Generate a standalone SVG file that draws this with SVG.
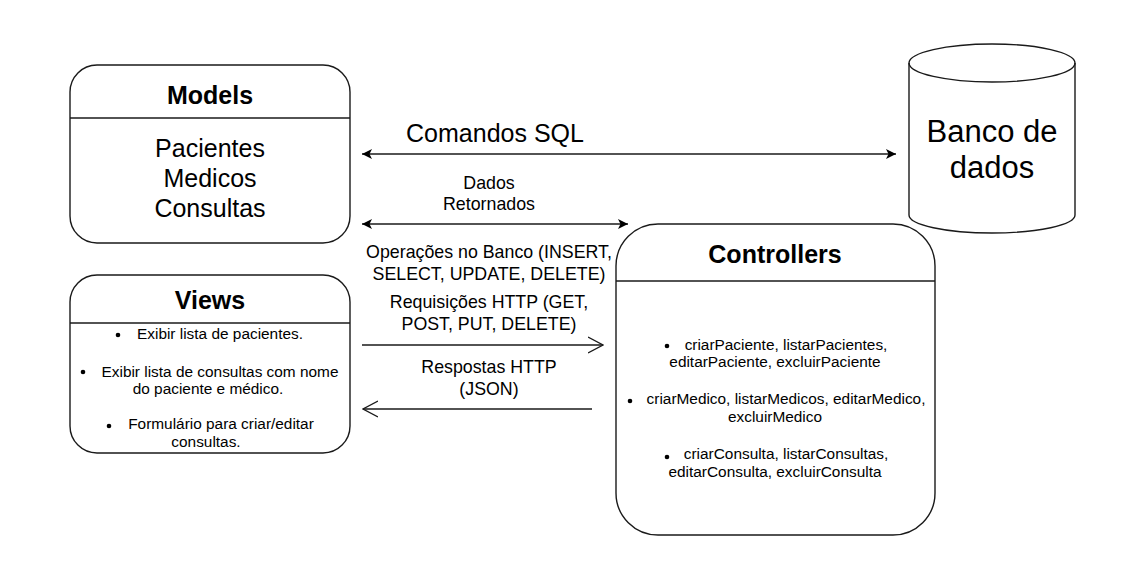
<svg xmlns="http://www.w3.org/2000/svg" width="1145" height="579" viewBox="0 0 1145 579">
<defs>
<style>
.box{fill:#fff;stroke:#1a1a1a;stroke-width:1.4}
.ln{stroke:#1a1a1a;stroke-width:1.4;fill:none}
.t{font-family:"Liberation Sans",Arial,sans-serif;fill:#000;text-anchor:middle}
.title{font-size:25px;font-weight:bold}
.big{font-size:25px}
.lbl{font-size:17.8px}
.sm{font-size:15.4px}
.db{font-size:31px}
.dot{fill:#000}
</style>
<marker id="blk" viewBox="0 0 10 10" refX="10" refY="5" markerWidth="10" markerHeight="10" markerUnits="userSpaceOnUse" orient="auto-start-reverse">
<path d="M0,0 L10,5 L0,10 L2.5,5 Z" fill="#000"/>
</marker>
<marker id="opn" viewBox="0 0 16 18" refX="15" refY="9" markerWidth="16" markerHeight="18" markerUnits="userSpaceOnUse" orient="auto-start-reverse">
<path d="M0,1 L15,9 L0,17" fill="none" stroke="#1a1a1a" stroke-width="1.4"/>
</marker>
</defs>
<rect width="1145" height="579" fill="#fff"/>

<g id="models">
<rect class="box" x="70" y="65" width="280" height="178" rx="27" ry="27"/>
<line class="ln" x1="70" y1="118" x2="350" y2="118"/>
<text class="t title" x="210" y="104">Models</text>
<text class="t big" x="210" y="157">Pacientes</text>
<text class="t big" x="210" y="187">Medicos</text>
<text class="t big" x="210" y="217">Consultas</text>
</g>

<g id="views">
<rect class="box" x="70" y="275" width="280" height="178" rx="27" ry="27"/>
<line class="ln" x1="70" y1="323" x2="350" y2="323"/>
<text class="t title" x="210" y="309">Views</text>
<circle class="dot" cx="118" cy="335" r="2.3"/>
<text class="t sm" x="220" y="339">Exibir lista de pacientes.</text>
<circle class="dot" cx="83" cy="372" r="2.3"/>
<text class="t sm" x="220" y="377">Exibir lista de consultas com nome</text>
<text class="t sm" x="208" y="394">do paciente e médico.</text>
<circle class="dot" cx="109" cy="426" r="2.3"/>
<text class="t sm" x="221" y="429">Formulário para criar/editar</text>
<text class="t sm" x="206" y="447">consultas.</text>
</g>

<g id="controllers">
<rect class="box" x="616" y="224" width="319" height="311" rx="42" ry="42"/>
<line class="ln" x1="616" y1="281" x2="935" y2="281"/>
<text class="t title" x="775" y="263">Controllers</text>
<circle class="dot" cx="667" cy="346" r="2.3"/>
<text class="t sm" x="786" y="350">criarPaciente, listarPacientes,</text>
<text class="t sm" x="775" y="367">editarPaciente, excluirPaciente</text>
<circle class="dot" cx="630" cy="401" r="2.3"/>
<text class="t sm" x="786" y="404">criarMedico, listarMedicos, editarMedico,</text>
<text class="t sm" x="775" y="422">excluirMedico</text>
<circle class="dot" cx="667" cy="457" r="2.3"/>
<text class="t sm" x="786" y="459">criarConsulta, listarConsultas,</text>
<text class="t sm" x="775" y="477">editarConsulta, excluirConsulta</text>
</g>

<g id="banco">
<path class="box" d="M909,63 L909,215 A83,18 0 0 0 1075,215 L1075,63 A83,19 0 0 0 909,63 Z"/>
<path class="ln" d="M909,63 A83,19 0 0 0 1075,63"/>
<text class="t db" x="992" y="142">Banco de</text>
<text class="t db" x="992" y="178">dados</text>
</g>

<g id="connectors">
<line class="ln" x1="362" y1="154" x2="896" y2="154" marker-start="url(#blk)" marker-end="url(#blk)"/>
<line class="ln" x1="362" y1="224" x2="628" y2="224" marker-start="url(#blk)" marker-end="url(#blk)"/>
<line class="ln" x1="362" y1="345" x2="603" y2="345" marker-end="url(#opn)"/>
<line class="ln" x1="592" y1="409" x2="363" y2="409" marker-end="url(#opn)"/>
<text class="t big" x="495" y="142">Comandos SQL</text>
<text class="t lbl" x="489" y="189">Dados</text>
<text class="t lbl" x="489" y="210">Retornados</text>
<text class="t lbl" x="489" y="258">Operações no Banco (INSERT,</text>
<text class="t lbl" x="489" y="280">SELECT, UPDATE, DELETE)</text>
<text class="t lbl" x="489" y="308">Requisições HTTP (GET,</text>
<text class="t lbl" x="489" y="330">POST, PUT, DELETE)</text>
<text class="t lbl" x="489" y="373">Respostas HTTP</text>
<text class="t lbl" x="489" y="395">(JSON)</text>
</g>
</svg>
